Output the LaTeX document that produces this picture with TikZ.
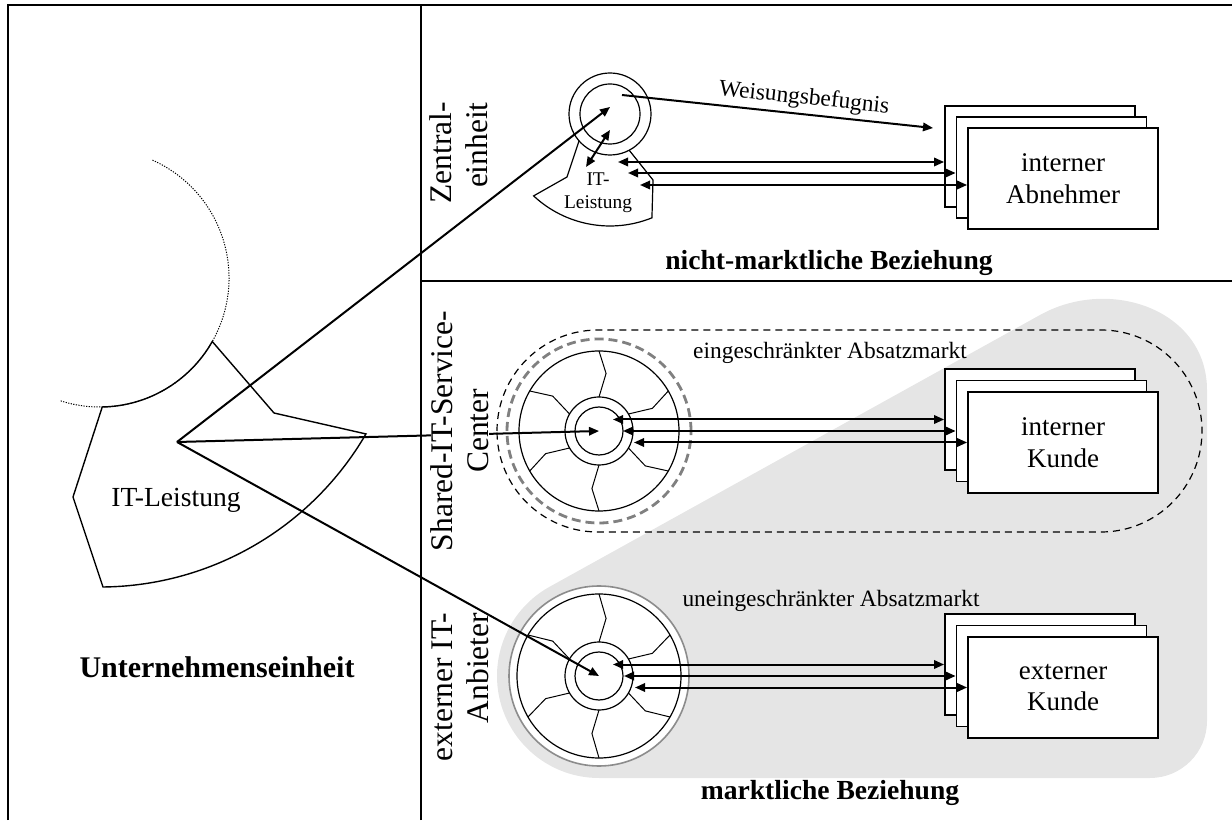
\documentclass[tikz,border=0pt]{standalone}
\usepackage{fontspec}
\setmainfont{Liberation Serif}
\usetikzlibrary{arrows.meta,positioning,calc}

\tikzset{
  kbox/.style={draw, fill=white, line width=0.9pt, minimum width=95pt, minimum height=50.5pt, align=center, font=\fontsize{13.5}{15.8}\selectfont},
  arr/.style={line width=1pt},
  thinline/.style={line width=0.6pt},
  small/.style={font=\fontsize{11.7}{14}\selectfont},
  head/.style={font=\fontsize{13.8}{16}\selectfont\bfseries},
  vlabel/.style={rotate=90, font=\fontsize{15.75}{18}\selectfont},
}

\begin{document}
\begin{tikzpicture}[x=0.5pt, y=0.5pt, >={Triangle[length=5pt,width=4.2pt]}]
\useasboundingbox (0,0) rectangle (1232,820);

% grauer Marktbereich
\fill[black!10] (549.55,233.2) -- (1040,505) .. controls (1110,544) and (1207,510) .. (1207,430) -- (1207,99) arc[start angle=0, end angle=-90, radius=57] -- (599,42) arc[start angle=-90, end angle=-241, radius=102] -- cycle;

% Rahmen
\draw[line width=0.8pt] (8,0) -- (8,815) -- (1232,815);
\draw[line width=0.8pt] (421,0) -- (421,815);
\draw[line width=0.8pt] (421,539) -- (1232,539);

% Unternehmenseinheit
\coordinate (C0) at (100,542);
\draw[line width=0.5pt, dash pattern=on 0.6pt off 0.7pt] (C0) ++(66:129) arc[start angle=66, end angle=-108, radius=129];
\draw[line width=0.7pt] (C0) ++(-29.5:129) arc[start angle=-29.5, end angle=-89, radius=129] -- (73,323) -- (103,233) arc[start angle=-89.4, end angle=-30.2, radius=308] -- (274,407) -- cycle;
\coordinate (hub) at (177,378);
\node (itl) at (176,320) [font=\fontsize{13.8}{16}\selectfont] {IT-Leistung};
\node (ue) at (217,153) [font=\fontsize{15}{18}\selectfont\bfseries] {Unternehmenseinheit};

% Zentraleinheit
\coordinate (Z) at (610,706);
\draw[thinline] (Z) circle[radius=41] (Z) circle[radius=30];
\draw[thinline] (579,679) -- (567,643) -- (533.6,624.1) arc[start angle=-133, end angle=-68, radius=112] -- (653,640) -- (629,670);
\node (zit) at (598,627) [font=\fontsize{9.7}{11.5}\selectfont, align=center] {IT-\\Leistung};
\coordinate (ztip) at (610,713);
\draw[arr,->] (hub) -- (ztip);
\coordinate (zd1) at (610,690);
\coordinate (zd2) at (586,653);
\draw[arr,<->] (zd1) -- (zd2);
\node[kbox] (ab1) at (1040,663.5) {};
\node[kbox] (ab2) at (1051.5,652.5) {};
\node[kbox] (ab3) at (1063,641.5) {interner\\Abnehmer};
\coordinate (wb1) at (622,725);
\coordinate (wb2) at (933,692);
\draw[arr,->] (wb1) -- node[pos=0.58, above, sloped, small, inner sep=2pt] (wbl) {Weisungsbefugnis} (wb2);
\coordinate (zl1) at (618,658);
\coordinate (zl2) at (628,647);
\coordinate (zl3) at (640,635);
\draw[arr,<->] (zl1) -- (zl1 -| ab1.west);
\draw[arr,<->] (zl2) -- (zl2 -| ab2.west);
\draw[arr,<->] (zl3) -- (zl3 -| ab3.west);
\node[head] (nmb) at (829,557) {nicht-marktliche Beziehung};
\node[vlabel, align=right] (zlab) at (459,667) {Zentral-\\einheit};

% Shared-IT-Service-Center
\coordinate (S) at (599,389);
\draw[thinline, dash pattern=on 3.5pt off 2.5pt, rounded corners=50.5pt] (497,288) rectangle (1202,490);
\draw[black!50, line width=1.4pt, dash pattern=on 4.5pt off 2.5pt] (S) circle[radius=92];
\draw[thinline, fill=white] (S) circle[radius=80];
\draw[thinline] (S) circle[radius=34] (S) circle[radius=24];

% externer IT-Anbieter
\coordinate (E) at (599,144);
\draw[black!45, line width=0.8pt, fill=white] (E) circle[radius=90];
\draw[thinline] (E) circle[radius=82];
\draw[thinline] (E) circle[radius=34] (E) circle[radius=24];

% Speichen
\foreach \c/\r in {S/80, E/82}
  \foreach \a in {90,30,-30,-90,-150,150}
    \draw[line width=0.5pt] ([shift={(\a:34)}]\c) -- ([shift={(\a-7:58)}]\c) -- ([shift={(\a:\r)}]\c);

\draw[arr,->] (hub) -- (S);
\node[vlabel, align=center, fill=white, inner sep=0pt] (slab) at (460,389) {Shared-IT-Service-\\Center};
\node[kbox] (ik1) at (1040,400.5) {};
\node[kbox] (ik2) at (1051.5,389) {};
\node[kbox] (ik3) at (1063,377.5) {interner\\Kunde};
\coordinate (sl1) at (613,400.5);
\coordinate (sl2) at (623,389);
\coordinate (sl3) at (634,377.5);
\draw[arr,<->] (sl1) -- (ik1.west);
\draw[arr,<->] (sl2) -- (ik2.west);
\draw[arr,<->] (sl3) -- (ik3.west);
\node[small] (eam) at (830,467) {eingeschränkter Absatzmarkt};

\draw[arr,->] (hub) -- (E);
\node[kbox] (ek1) at (1040,155.5) {};
\node[kbox] (ek2) at (1051.5,144) {};
\node[kbox] (ek3) at (1063,132.5) {externer\\Kunde};
\coordinate (el1) at (613,155.5);
\coordinate (el2) at (624,144);
\coordinate (el3) at (635,132.5);
\draw[arr,<->] (el1) -- (ek1.west);
\draw[arr,<->] (el2) -- (ek2.west);
\draw[arr,<->] (el3) -- (ek3.west);
\node[small] (uam) at (831,219) {uneingeschränkter Absatzmarkt};
\node[head] (mb) at (830,27) {marktliche Beziehung};
\node[vlabel, align=right] (elab) at (460,133) {externer IT-\\Anbieter};
\end{tikzpicture}
\end{document}
